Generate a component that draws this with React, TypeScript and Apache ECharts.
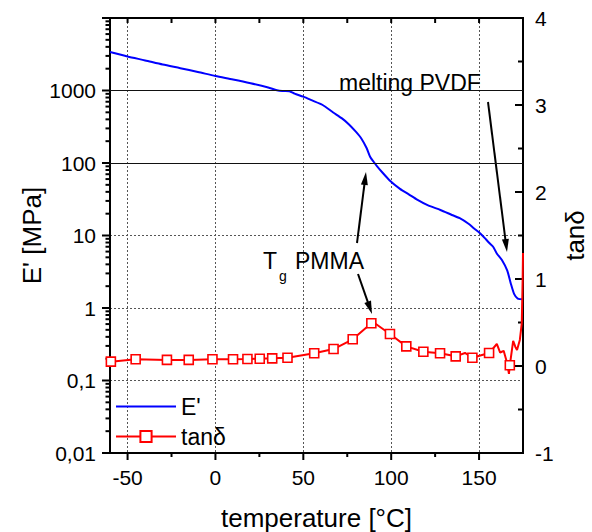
import React, { useEffect, useRef } from "react";
import * as echarts from "echarts";

// ---- Data ----
const tempE = [-60, -50, -40, -30, -20, -10, 0, 10, 20, 30, 35, 38, 42, 45, 50, 55, 61, 67, 72, 76, 80, 83, 86, 88, 90, 92, 95, 99, 105, 110, 115, 121, 128, 134, 139, 144, 147, 151, 154, 156, 158, 160, 163, 166, 168, 170, 172, 175];
const modulusE = [3400, 2950, 2600, 2280, 2030, 1800, 1585, 1420, 1260, 1100, 1010, 985, 980, 906, 822, 730, 631, 498, 412, 340, 268, 218, 161, 122, 104, 90, 74, 58, 44, 37, 31, 26, 22.5, 19.5, 17.3, 14.5, 12.6, 10.5, 8.8, 7.8, 7.0, 5.7, 4.6, 3.3, 2.2, 1.55, 1.35, 1.32];

// tan delta: points drawn with square markers
const tanMarkerT = [-59.5, -45.4, -27.6, -15.2, -1.7, 10, 18.2, 25.2, 32.3, 41, 56.2, 67.2, 78.1, 88.7, 99.3, 108.6, 118.3, 127.8, 136.7, 146.2, 155.7, 167.5];
const tanMarkerV = [0.05, 0.077, 0.07, 0.07, 0.077, 0.077, 0.08, 0.084, 0.088, 0.095, 0.146, 0.195, 0.307, 0.491, 0.368, 0.226, 0.164, 0.146, 0.111, 0.095, 0.149, 0.008];
// tan delta: extra points of the line (no markers)
const tanLineT = [91.5, 142, 160.1, 162, 164, 166, 167, 169.4, 170.6, 171.6, 173.2, 174.3, 174.8, 175];
const tanLineV = [0.48, 0.15, 0.253, 0.155, 0.175, 0.031, -0.09, 0.29, 0.222, 0.184, 0.3, 0.491, 0.99, 1.3];

// axes
const xMin = -60;
const xMax = 175;
const xMajorTicks = [-50, 0, 50, 100, 150];
const xMinorTicks = [-25, 25, 75, 125];
const logMin = 0.01;
const logMax = 10000;
const logDecades = [0.01, 0.1, 1, 10, 100, 1000, 10000];
const logMinorSteps = [2, 3, 4, 5, 6, 7, 8, 9];
const tanMin = -1;
const tanMax = 4;
const tanMajorTicks = [-1, 0, 1, 2, 3, 4];
const tanMinorTicks = [-0.5, 0.5, 1.5, 2.5, 3.5];

const FONT = "Liberation Sans, Arial, Helvetica, sans-serif";

function arrow(x1: number, y1: number, x2: number, y2: number) {
  const dx = x2 - x1;
  const dy = y2 - y1;
  const L = Math.hypot(dx, dy);
  const ux = dx / L;
  const uy = dy / L;
  const hl = 13;
  const hw = 3.5;
  const bx = x2 - ux * hl;
  const by = y2 - uy * hl;
  return [
    {
      type: "line",
      shape: { x1, y1, x2: bx + ux * 2, y2: by + uy * 2 },
      style: { stroke: "#000", lineWidth: 2 },
    },
    {
      type: "polygon",
      shape: {
        points: [
          [x2, y2],
          [bx - uy * hw, by + ux * hw],
          [bx + uy * hw, by - ux * hw],
        ],
      },
      style: { fill: "#000" },
    },
  ];
}

const seg = (x1: number, y1: number, x2: number, y2: number) => ({
  type: "line",
  shape: { x1, y1, x2, y2 },
  style: { stroke: "#000", lineWidth: 2 },
});

const label = (text: string, x: number, y: number, fontSize: number, rotation = 0, align = "left") => ({
  type: "text",
  x,
  y,
  rotation,
  style: { text, fontSize, fontFamily: FONT, fill: "#000", align, verticalAlign: "middle" },
});

export default function App() {
  const ref = useRef<HTMLDivElement>(null);

  useEffect(() => {
    document.body.style.margin = "0";
    if (!ref.current) return;
    const chart = echarts.init(ref.current, undefined, { renderer: "svg" });

    const eData = tempE.map((t, i) => [t, modulusE[i]]);
    const tanItems: any[] = [
      ...tanMarkerT.map((t, i) => ({ value: [t, tanMarkerV[i]] })),
      ...tanLineT.map((t, i) => ({ value: [t, tanLineV[i]], symbol: "none" })),
    ].sort((a, b) => a.value[0] - b.value[0]);

    const logMinor = logDecades
      .slice(0, -1)
      .flatMap((d) => logMinorSteps.map((k) => Number((k * d).toPrecision(6))));

    const gridLine = { color: "#555", width: 1, type: [2, 2] as any };
    const frameData = [
      [xMin, logMin],
      [xMin, logMax],
      [xMax, logMax],
      [xMax, logMin],
      [xMin, logMin],
    ];

    chart.setOption({
      animation: false,
      backgroundColor: "#fff",
      grid: { left: 110, top: 18, right: 69, bottom: 79, outerBoundsMode: "none" },
      legend: {
        orient: "vertical",
        left: 115,
        top: 395,
        itemWidth: 60,
        itemHeight: 14,
        itemGap: 7,
        padding: 0,
        textStyle: { fontSize: 23, color: "#000", fontFamily: FONT },
        data: [{ name: "E'", itemStyle: { opacity: 0 } }, { name: "tanδ" }],
      },
      xAxis: {
        type: "value",
        min: xMin,
        max: xMax,
        axisLine: { show: true, onZero: false, lineStyle: { color: "#000", width: 2 } },
        axisTick: { show: false, customValues: xMajorTicks },
        axisLabel: { customValues: xMajorTicks, margin: 14, fontSize: 21, color: "#000", fontFamily: FONT },
        splitLine: { show: true, lineStyle: gridLine },
      },
      yAxis: [
        {
          type: "log",
          min: logMin,
          max: logMax,
          axisLine: { show: true, onZero: false, lineStyle: { color: "#000", width: 2 } },
          axisTick: { show: false },
          axisLabel: {
            margin: 14,
            fontSize: 21,
            color: "#000",
            fontFamily: FONT,
            showMaxLabel: false,
            formatter: (v: any) => String(Number(Number(v).toPrecision(6))).replace(".", ","),
          },
          splitLine: { show: true, lineStyle: gridLine },
        },
        {
          type: "value",
          position: "right",
          min: tanMin,
          max: tanMax,
          interval: 1,
          axisLine: { show: true, onZero: false, lineStyle: { color: "#000", width: 2 } },
          axisTick: { show: false },
          axisLabel: { margin: 12, fontSize: 21, color: "#000", fontFamily: FONT },
          splitLine: { show: false },
        },
      ],
      series: [
        {
          name: "frame",
          type: "line",
          data: frameData,
          symbol: "none",
          clip: false,
          silent: true,
          lineStyle: { color: "#000", width: 2 },
          itemStyle: { color: "#000" },
        },
        {
          name: "E'",
          type: "line",
          data: eData,
          symbol: "none",
          smooth: 0.25,
          lineStyle: { color: "#0000ff", width: 2 },
          itemStyle: { color: "#0000ff" },
          markLine: {
            silent: true,
            symbol: "none",
            label: { show: false },
            lineStyle: { color: "#111", width: 1, type: "solid" },
            data: [{ yAxis: 100 }, { yAxis: 1000 }],
          },
        },
        {
          name: "tanδ",
          type: "line",
          yAxisIndex: 1,
          data: tanItems,
          symbol: "rect",
          symbolSize: 9,
          showAllSymbol: true,
          lineStyle: { color: "#ff0000", width: 2 },
          itemStyle: { color: "#ffffff", borderColor: "#ff0000", borderWidth: 1.6 },
        },
      ],
    });

    // Frame and ticks, placed through the axes' own scales
    const px = (v: number) => Number(chart.convertToPixel({ xAxisIndex: 0 }, v));
    const pyL = (v: number) => Number(chart.convertToPixel({ yAxisIndex: 0 }, v));
    const pyR = (v: number) => Number(chart.convertToPixel({ yAxisIndex: 1 }, v));

    const l = px(xMin);
    const r = px(xMax);
    const t = pyL(logMax);
    const b = pyL(logMin);

    const frame: any[] = [seg(l - 1, t, r + 1, t), seg(l - 1, b, r + 1, b), seg(l, t, l, b), seg(r, t, r, b)];
    xMajorTicks.forEach((v) => {
      const x = px(v);
      frame.push(seg(x, b, x, b + 7), seg(x, t, x, t + 5));
    });
    xMinorTicks.forEach((v) => {
      const x = px(v);
      frame.push(seg(x, b, x, b + 4), seg(x, t, x, t + 5));
    });
    logDecades.forEach((v) => {
      const y = pyL(v);
      frame.push(seg(l - 8, y, l, y));
    });
    logMinor.forEach((v) => {
      const y = pyL(v);
      frame.push(seg(l - 4.5, y, l, y));
    });
    tanMajorTicks.forEach((v) => {
      const y = pyR(v);
      frame.push(seg(r - 8, y, r, y));
    });
    tanMinorTicks.forEach((v) => {
      const y = pyR(v);
      frame.push(seg(r - 5, y, r, y));
    });

    chart.setOption({
      graphic: [
        label("temperature [°C]", (l + r) / 2, 518, 26, 0, "center"),
        label("E' [MPa]", 32, (t + b) / 2, 26, Math.PI / 2, "center"),
        label("tanδ", 575, (t + b) / 2, 26, Math.PI / 2, "center"),
        label("melting PVDF", 339, 83, 23),
        ...arrow(488, 102, 507, 252),
        label("T", 263, 261, 23),
        label("g", 279, 276, 14),
        label("PMMA", 295, 261, 23),
        ...arrow(357, 243, 366, 172),
        ...arrow(358, 274, 372, 314),
        ...frame,
      ],
    });

    return () => {
      chart.dispose();
    };
  }, []);

  return <div ref={ref} style={{ width: 592, height: 532 }} />;
}
